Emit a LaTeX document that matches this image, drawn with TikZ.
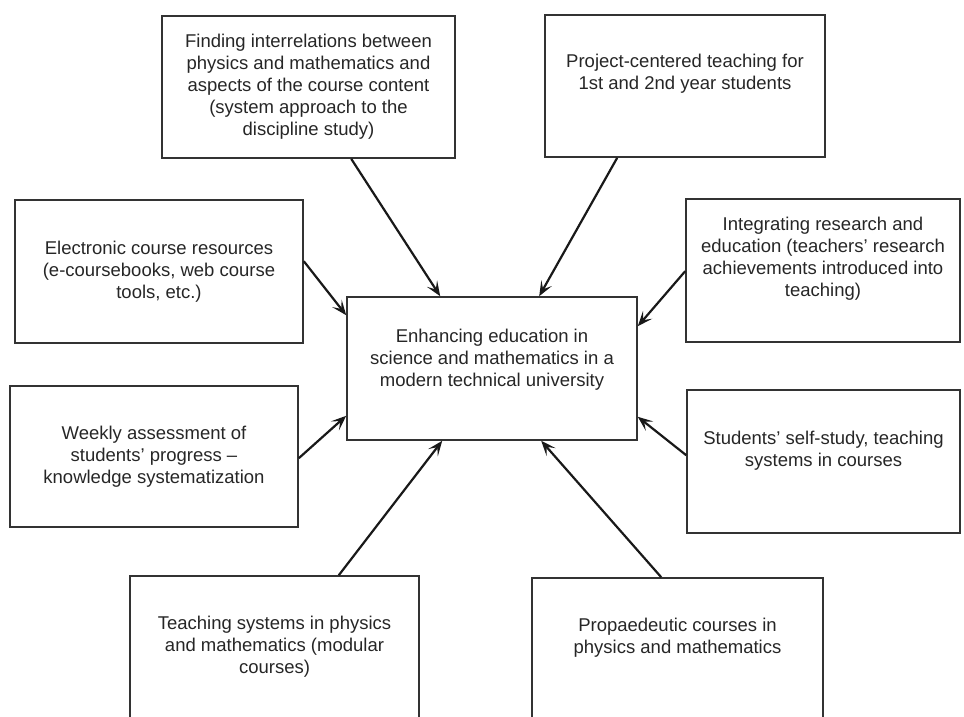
\documentclass[tikz,border=0pt]{standalone}
\usepackage{fontspec}
\setmainfont{Liberation Sans}
\usetikzlibrary{arrows.meta}

\begin{document}
\begin{tikzpicture}[
    x=1pt, y=-1pt,
    >={Stealth[length=15pt, width=12pt, inset=7pt]},
    box/.style={draw=black!80, line width=1.6pt, align=center, inner sep=0pt,
      text=black!85, font=\fontsize{18.5}{22}\selectfont},
    lift/.style={text depth=#1pt},
    arrow/.style={->, line width=2.2pt, draw=black!90}
  ]
    \clip (0,0) rectangle (964,716);

    \node[box, minimum width=293pt, minimum height=142pt] (links) at (308.5,87)
      {Finding interrelations between\\physics and mathematics and\\aspects of the course content\\(system approach to the\\discipline study)};
    \node[box, lift=28, minimum width=280pt, minimum height=142pt] (project) at (685,86)
      {Project-centered teaching for\\1st and 2nd year students};
    \node[box, minimum width=288pt, minimum height=143pt] (eres) at (159,271.5)
      {Electronic course resources\\(e-coursebooks, web course\\tools, etc.)};
    \node[box, lift=27, minimum width=274pt, minimum height=143pt] (research) at (823,270.5)
      {Integrating research and\\education (teachers’ research\\achievements introduced into\\teaching)};
    \node[box, lift=21, minimum width=290pt, minimum height=143pt] (goal) at (492,368.5)
      {Enhancing education in\\science and mathematics in a\\modern technical university};
    \node[box, minimum width=288pt, minimum height=141pt] (assess) at (154,456.5)
      {Weekly assessment of\\students’ progress –\\knowledge systematization};
    \node[box, lift=25, minimum width=273pt, minimum height=143pt] (selfstudy) at (823.5,461.5)
      {Students’ self-study, teaching\\systems in courses};
    \node[box, lift=17, minimum width=289pt, minimum height=154pt] (modular) at (274.5,653)
      {Teaching systems in physics\\and mathematics (modular\\courses)};
    \node[box, lift=37, minimum width=291pt, minimum height=152pt] (propaed) at (677.5,654)
      {Propaedeutic courses in\\physics and mathematics};

    % all arrows point into the central box
    \draw[arrow] ([xshift=190pt]links.south west) -- ([xshift=94pt]goal.north west);
    \draw[arrow] ([xshift=73pt]project.south west) -- ([xshift=193pt]goal.north west);
    \draw[arrow] ([yshift=-62pt]eres.north east) -- ([yshift=-19pt]goal.north west);
    \draw[arrow] ([yshift=-73pt]research.north west) -- ([yshift=-30pt]goal.north east);
    \draw[arrow] ([yshift=-73pt]assess.north east) -- ([yshift=25pt]goal.south west);
    \draw[arrow] ([yshift=-66pt]selfstudy.north west) -- ([yshift=24pt]goal.south east);
    \draw[arrow] ([xshift=-81pt]modular.north east) -- ([xshift=96pt]goal.south west);
    \draw[arrow] ([xshift=130pt]propaed.north west) -- ([xshift=195pt]goal.south west);
  \end{tikzpicture}
\end{document}
